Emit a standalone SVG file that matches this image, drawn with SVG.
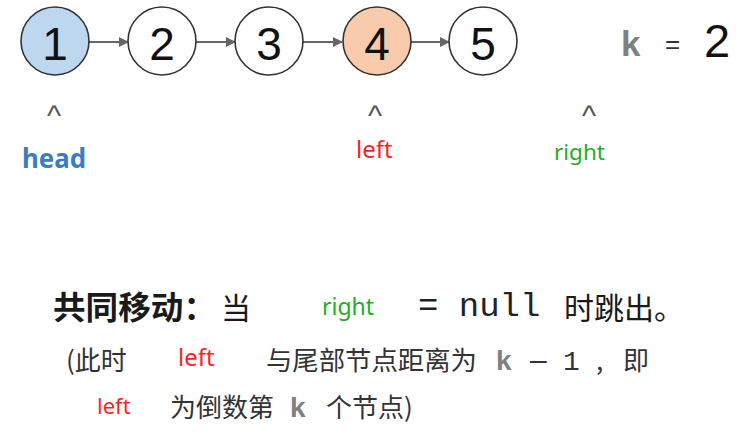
<svg xmlns="http://www.w3.org/2000/svg" width="747" height="438" viewBox="0 0 747 438">
<defs>
<style>
.node{stroke:#333;stroke-width:1.6}
.num{font-family:"Liberation Sans",Arial,sans-serif;font-size:46px;fill:#111;text-anchor:middle}
.caret{font-family:"Liberation Sans",Arial,sans-serif;font-size:30px;fill:#555;text-anchor:middle}
.lbl{font-family:"Noto Sans","Liberation Sans",sans-serif}
.cjk{font-family:"Noto Sans CJK SC","Noto Sans",sans-serif}
.mono{font-family:"Liberation Mono","DejaVu Sans Mono",monospace}
.kk{font-family:"Liberation Sans",Arial,sans-serif;font-weight:bold;fill:#808080}
.red{fill:#ff1f1f}
.green{fill:#1fae1f}
.conn{stroke:#666;stroke-width:2;fill:none;marker-end:url(#ah)}
</style>
<marker id="ah" viewBox="0 0 10 10" refX="9" refY="5" markerWidth="5" markerHeight="5" orient="auto" markerUnits="strokeWidth">
<path d="M0,0 L10,5 L0,10 z" fill="#666"/>
</marker>
</defs>
<rect width="747" height="438" fill="#fff"/>
<g id="connectors">
<line class="conn" x1="89" y1="42" x2="128" y2="42"/>
<line class="conn" x1="196" y1="42" x2="235" y2="42"/>
<line class="conn" x1="303" y1="42" x2="342" y2="42"/>
<line class="conn" x1="411" y1="42" x2="449" y2="42"/>
</g>
<g id="node1"><circle class="node" cx="55" cy="41" r="34" fill="#bdd7ee"/><text class="num" x="55" y="60">1</text></g>
<g id="node2"><circle class="node" cx="162" cy="41" r="34" fill="#fff"/><text class="num" x="162" y="60">2</text></g>
<g id="node3"><circle class="node" cx="269" cy="41" r="34" fill="#fff"/><text class="num" x="269" y="60">3</text></g>
<g id="node4"><circle class="node" cx="377" cy="41" r="34" fill="#f8cbad"/><text class="num" x="377" y="60">4</text></g>
<g id="node5"><circle class="node" cx="483" cy="41" r="34" fill="#fff"/><text class="num" x="483" y="60">5</text></g>
<g id="kvalue">
<text class="kk" x="621" y="56" font-size="35">k</text>
<text x="665" y="53" font-family="Liberation Sans,Arial,sans-serif" font-size="26" fill="#333">=</text>
<text x="704" y="57" font-family="Liberation Sans,Arial,sans-serif" font-size="47" fill="#111">2</text>
</g>
<g id="pointers">
<text class="caret" x="54" y="126">^</text>
<text class="caret" x="375" y="126">^</text>
<text class="caret" x="589" y="126">^</text>
<text class="lbl" x="22" y="168" font-size="27" font-weight="bold" fill="#3a7dc0" textLength="64" lengthAdjust="spacingAndGlyphs">head</text>
<text class="lbl red" x="356" y="158" font-size="24">left</text>
<text class="lbl green" x="554" y="160" font-size="22.5">right</text>
</g>
<g id="caption">
<text class="cjk" x="53" y="319" font-size="32" font-weight="bold" fill="#1a1a1a" textLength="163" lengthAdjust="spacingAndGlyphs">共同移动：</text>
<text class="cjk" x="221" y="319" font-size="30" fill="#1a1a1a">当</text>
<text class="lbl green" x="322" y="315" font-size="23">right</text>
<text class="mono" x="418" y="316" font-size="34" fill="#222">= null</text>
<text class="cjk" x="564" y="319" font-size="30" fill="#1a1a1a">时跳出。</text>
<text class="cjk" x="66" y="370" font-size="26" fill="#333">(此时</text>
<text class="lbl red" x="178" y="366" font-size="24">left</text>
<text class="cjk" x="266" y="370" font-size="26" fill="#333" textLength="211" lengthAdjust="spacingAndGlyphs">与尾部节点距离为</text>
<text class="kk" x="496" y="370" font-size="28">k</text>
<text x="530" y="370" font-family="Liberation Sans,Arial,sans-serif" font-size="30" fill="#333">–</text>
<text class="mono" x="563" y="370" font-size="28" fill="#333">1</text>
<text class="cjk" x="596" y="370" font-size="26" fill="#333">,</text>
<text class="cjk" x="623" y="370" font-size="26" fill="#333">即</text>
<text class="lbl red" x="97" y="414" font-size="22">left</text>
<text class="cjk" x="170" y="417" font-size="26" fill="#333">为倒数第</text>
<text class="kk" x="290" y="417" font-size="28">k</text>
<text class="cjk" x="326" y="417" font-size="26" fill="#333">个节点)</text>
</g>
</svg>
